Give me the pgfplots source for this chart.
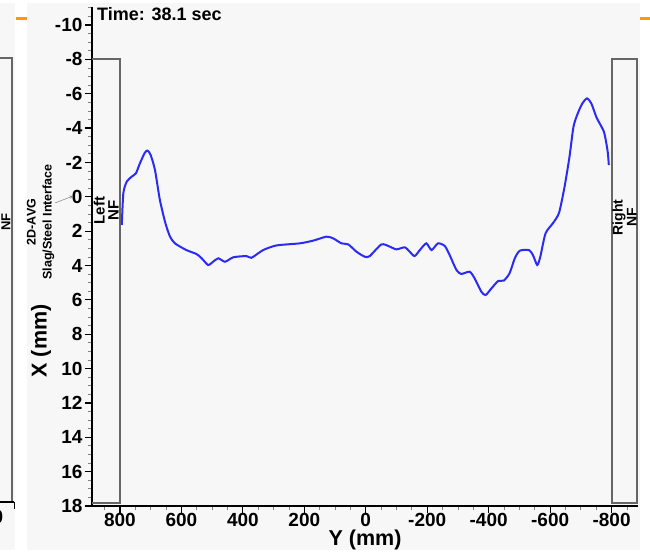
\documentclass[border=0pt]{standalone}
\usepackage{fontspec}
\setmainfont{Liberation Sans}
\usepackage{pgfplots}
\pgfplotsset{compat=1.18}
\definecolor{bg}{HTML}{F7F7F7}
\definecolor{boxc}{HTML}{666666}
\definecolor{curve}{HTML}{2B2BF5}
\definecolor{orng}{HTML}{FF9900}
\pgfplotstableread{
x y
794 1.64
789 -0.21
778 -0.88
762 -1.17
748 -1.37
735 -1.95
719 -2.57
710 -2.69
700 -2.43
686 -1.56
670 0.19
652 1.54
637 2.32
621 2.71
584 3.10
551 3.33
534 3.58
513 3.97
497 3.78
480 3.58
458 3.78
431 3.52
388 3.45
372 3.55
334 3.10
290 2.83
215 2.71
171 2.55
128 2.32
106 2.42
79 2.71
57 2.77
30 3.20
3 3.49
-13 3.45
-51 2.77
-78 2.90
-100 3.06
-127 2.94
-143 3.20
-159 3.45
-176 3.10
-197 2.71
-214 3.10
-235 2.71
-257 2.86
-273 3.39
-295 4.26
-311 4.49
-338 4.36
-354 4.74
-376 5.52
-390 5.72
-409 5.33
-431 4.90
-449 4.88
-468 4.45
-485 3.58
-501 3.14
-531 3.10
-544 3.39
-558 3.97
-568 3.49
-585 2.13
-609 1.54
-629 0.93
-647 -0.59
-663 -2.33
-676 -4.08
-690 -4.86
-705 -5.44
-720 -5.73
-734 -5.44
-750 -4.66
-761 -4.28
-775 -3.79
-783 -3.11
-788 -2.53
-791 -1.85
}\profile
\begin{document}
\begin{tikzpicture}[x=1pt,y=1pt]
\path[use as bounding box] (0,0) rectangle (650,553);
\fill[white] (0,0) rectangle (650,553);
\fill[bg] (0,3) rectangle (15,550);
\fill[bg] (27,3) rectangle (640,550);
% neighbouring panel remnants
\draw[boxc, line width=1.5pt] (0,495) -- (12,495) -- (12,51);
\draw[black, line width=2pt] (0,51) -- (14,51);
\draw[black, line width=0.8pt] (14,51) -- (14,44);
\node[rotate=90, font=\bfseries\fontsize{13}{13}\selectfont, inner sep=0] at (6,331) {NF};
\node[anchor=east, inner sep=0, font=\bfseries\fontsize{19}{19}\selectfont] at (3.5,36) {0};
\draw[orng, line width=3pt] (16,534) -- (27,534);
\draw[orng, line width=3pt] (640,534) -- (650,534);
\begin{axis}[
  at={(92pt,47pt)}, anchor=south west, scale only axis,
  width=546pt, height=499pt,
  x dir=reverse, y dir=reverse,
  xmin=-886, xmax=891, ymin=-11.05, ymax=18,
  axis x line*=bottom, axis y line*=left,
  axis line style={-, line width=2pt, black},
  xtick={-800,-600,...,800},
  ytick={-10,-8,...,18},
  minor xtick={-850,-800,...,850},
  minor ytick={-11,-10.5,...,18},
  tick align=outside,
  major tick length=7pt, minor tick length=4pt,
  major tick style={black, line width=1.2pt},
  minor tick style={gray, line width=0.8pt},
  tick label style={font=\bfseries\fontsize{19}{19}\selectfont},
  /pgf/number format/assume math mode=true,
  yticklabel style={xshift=1pt},
  xticklabel style={yshift=1pt, inner sep=1pt, text depth=0pt},
  clip=false,
]
\draw[boxc, line width=2pt] (axis cs:891,-8) -- (axis cs:800,-8) -- (axis cs:800,17.85) -- (axis cs:891,17.85);
\draw[boxc, line width=2pt] (axis cs:-800,17.85) rectangle (axis cs:-884,-8);
\addplot[curve, line width=2pt, smooth, tension=0.4] table[x=x,y=y] {\profile};
\node[rotate=90, align=center, font=\bfseries\fontsize{15}{14}\selectfont] at (axis cs:845,0.8) {Left\\NF};
\node[rotate=90, align=center, font=\bfseries\fontsize{14}{14}\selectfont] at (axis cs:-842,1.2) {Right\\NF};
\end{axis}
\node[anchor=north west, inner sep=0, font=\bfseries\fontsize{18}{18}\selectfont] at (97,546) {Time: 38.1 sec};
\node[rotate=90, font=\bfseries\fontsize{21.5}{21.5}\selectfont] at (41,212) {X (mm)};
\node[font=\bfseries\fontsize{21.5}{21.5}\selectfont, anchor=south, inner sep=0] at (365,2.5) {Y (mm)};
\node[rotate=90, align=center, font=\bfseries\fontsize{12.5}{16}\selectfont] at (40.5,331) {2D-AVG\\Slag/Steel Interface};
\draw[gray, line width=0.5pt, -stealth] (55,350) -- (73,357);
\end{tikzpicture}
\end{document}
